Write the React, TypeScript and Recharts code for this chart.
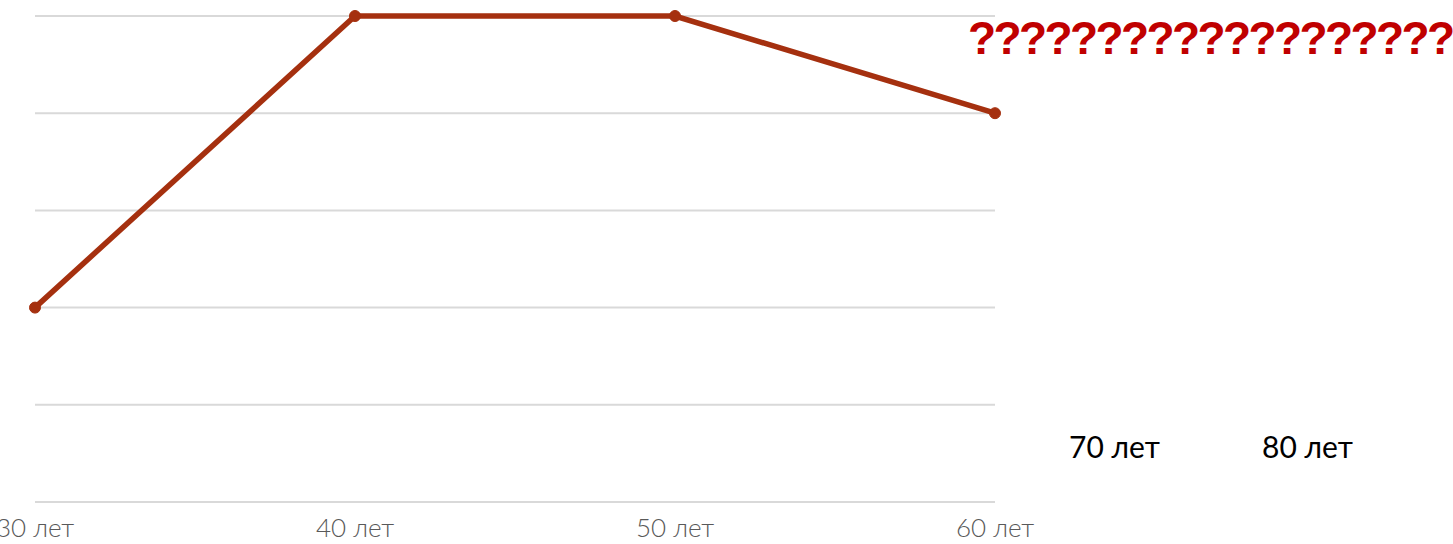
import { LineChart, Line, XAxis, YAxis, CartesianGrid } from 'recharts'

const ages = ['30 лет', '40 лет', '50 лет', '60 лет']
const values = [2, 5, 5, 4]
const extraAges = ['70 лет', '80 лет']
const title = '????????????????????????'
const yTicks = [0, 1, 2, 3, 4, 5]

const data = ages.map((name, i) => ({ name, value: values[i] }))

export default function App() {
  return (
    <div style={{ position: 'absolute', left: 0, top: 0, width: 1453, height: 544, overflow: 'hidden', background: '#fff' }}>
      <LineChart width={1453} height={544} data={data} margin={{ top: 16, right: 458, bottom: 0, left: 35 }}>
        <CartesianGrid horizontal vertical={false} stroke="#d9d9d9" strokeWidth={2} />
        <XAxis
          dataKey="name"
          axisLine={{ stroke: '#d9d9d9', strokeWidth: 2 }}
          tickLine={false}
          tickMargin={11}
          height={42}
          interval={0}
          tick={{ fill: '#595959', fontSize: 26, fontFamily: 'Lato', fontWeight: 300 }}
        />
        <YAxis hide domain={[0, 5]} ticks={yTicks} />
        <Line
          type="linear"
          dataKey="value"
          stroke="#a5300f"
          strokeWidth={5.5}
          dot={{ r: 5.5, fill: '#a5300f', stroke: '#a5300f', strokeWidth: 1 }}
          isAnimationActive={false}
        />
      </LineChart>
      <div
        style={{
          position: 'absolute', left: 968, top: 11, whiteSpace: 'nowrap', color: '#c00000',
          fontFamily: 'Liberation Sans', fontWeight: 700, fontSize: 46, letterSpacing: -2.6, lineHeight: 'normal',
        }}
      >
        {title}
      </div>
      {extraAges.map((t, i) => (
        <div
          key={t}
          style={{
            position: 'absolute', left: 1069 + i * 193, top: 428, whiteSpace: 'nowrap',
            color: '#000', fontFamily: 'Lato', fontSize: 30,
          }}
        >
          {t}
        </div>
      ))}
    </div>
  )
}
